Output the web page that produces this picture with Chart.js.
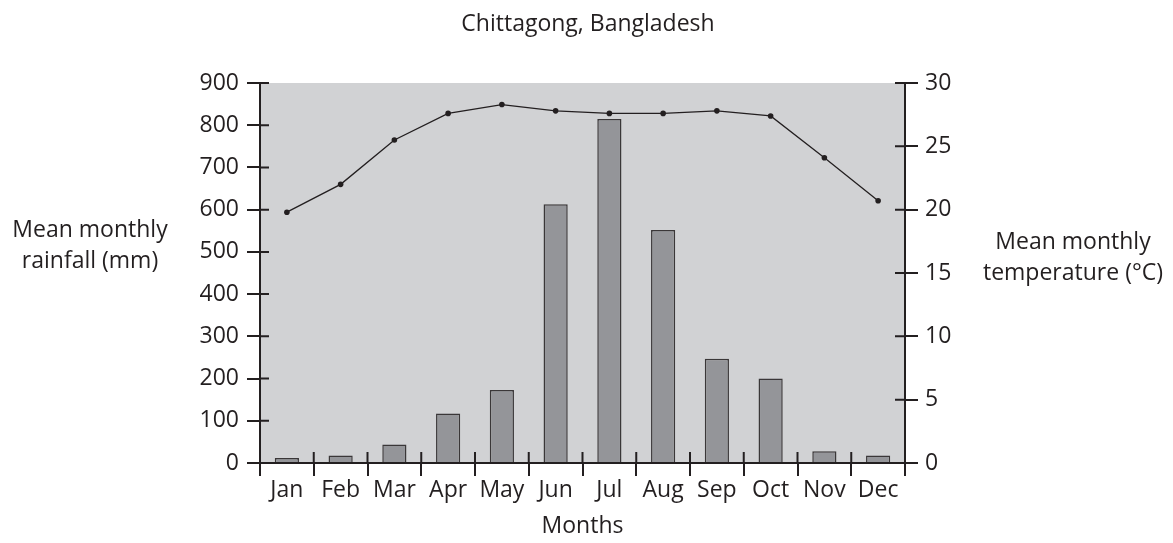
<!DOCTYPE html>
<html>
<head>
<meta charset="utf-8">
<script src="https://cdn.jsdelivr.net/npm/chart.js@4/dist/chart.umd.min.js"></script>
<style>
  html, body { margin: 0; padding: 0; background: #ffffff; }
  #wrap { position: relative; width: 1173px; height: 543px; }
</style>
</head>
<body>
<div id="wrap"><canvas id="climate"></canvas></div>
<script>
// データ
const months = ['Jan', 'Feb', 'Mar', 'Apr', 'May', 'Jun', 'Jul', 'Aug', 'Sep', 'Oct', 'Nov', 'Dec'];
const rainfall = [12, 18, 44, 117, 173, 613, 815, 552, 247, 200, 28, 18];
const temperature = [19.8, 22.0, 25.5, 27.6, 28.3, 27.8, 27.6, 27.6, 27.8, 27.4, 24.1, 20.7];
const rainTicks = [0, 100, 200, 300, 400, 500, 600, 700, 800, 900];
const tempTicks = [0, 5, 10, 15, 20, 25, 30];

const chartTitle = 'Chittagong, Bangladesh';
const leftTitle = ['Mean monthly', 'rainfall (mm)'];
const rightTitle = ['Mean monthly', 'temperature (\u00B0C)'];
const xTitle = 'Months';

const ink = '#231f20';
const fontFamily = '"Open Sans", "Noto Sans", sans-serif';
const fontSize = 23;

// 背景・内側の目盛り・テキスト
const decorPlugin = {
    id: 'decor',
    beforeDraw(chart) {
        const { ctx, chartArea: a } = chart;
        ctx.save();
        ctx.fillStyle = '#d1d2d4';
        ctx.fillRect(a.left, a.top, a.right - a.left, a.bottom - a.top);
        ctx.restore();
    },
    afterDraw(chart) {
        const { ctx, chartArea: a, scales } = chart;
        ctx.save();
        ctx.strokeStyle = ink;
        ctx.lineWidth = 2;
        ctx.beginPath();
        // 内側に伸びる目盛り
        scales.y.ticks.forEach((t, i) => {
            const y = scales.y.getPixelForTick(i);
            ctx.moveTo(a.left, y);
            ctx.lineTo(a.left + 9, y);
        });
        scales.y1.ticks.forEach((t, i) => {
            const y = scales.y1.getPixelForTick(i);
            ctx.moveTo(a.right, y);
            ctx.lineTo(a.right - 10, y);
        });
        const w = (a.right - a.left) / months.length;
        for (let i = 0; i <= months.length; i++) {
            const x = a.left + i * w;
            ctx.moveTo(x, a.bottom);
            ctx.lineTo(x, a.bottom - 11);
        }
        ctx.stroke();

        // タイトル類
        ctx.fillStyle = ink;
        ctx.font = `${fontSize}px ${fontFamily}`;
        ctx.textAlign = 'center';
        ctx.textBaseline = 'alphabetic';
        ctx.fillText(chartTitle, 588, 31);
        leftTitle.forEach((s, i) => ctx.fillText(s, 90, 237 + i * 31));
        rightTitle.forEach((s, i) => ctx.fillText(s, 1073, 249 + i * 31));
        ctx.restore();
    }
};

const ctx = document.getElementById('climate').getContext('2d');
const climateChart = new Chart(ctx, {
    data: {
        labels: months,
        datasets: [
            {
                type: 'line',
                label: 'Temperature',
                data: temperature,
                yAxisID: 'y1',
                borderColor: ink,
                borderWidth: 1.3,
                pointRadius: 2.8,
                pointBackgroundColor: ink,
                pointBorderWidth: 0,
                tension: 0,
                order: 0
            },
            {
                type: 'bar',
                label: 'Rainfall',
                data: rainfall,
                yAxisID: 'y',
                backgroundColor: '#949599',
                borderColor: '#3a3738',
                borderWidth: 1.5,
                barPercentage: 0.45,
                categoryPercentage: 1.0,
                order: 1
            }
        ]
    },
    options: {
        responsive: true,
        maintainAspectRatio: false,
        animation: false,
        layout: { padding: { top: 83, left: 0, right: 0, bottom: 0 } },
        plugins: {
            legend: { display: false },
            tooltip: { enabled: false }
        },
        scales: {
            x: {
                offset: true,
                grid: {
                    offset: true,
                    drawOnChartArea: false,
                    drawTicks: true,
                    tickLength: 13,
                    color: ink,
                    lineWidth: 2
                },
                border: { display: true, color: ink, width: 2 },
                ticks: {
                    color: ink,
                    padding: 1,
                    maxRotation: 0,
                    font: { family: fontFamily, size: fontSize }
                },
                title: {
                    display: true,
                    text: xTitle,
                    color: ink,
                    font: { family: fontFamily, size: fontSize },
                    padding: { top: 0, bottom: 3 }
                },
                afterFit: s => { s.height = 80; }
            },
            y: {
                position: 'left',
                min: 0,
                max: 900,
                afterBuildTicks: s => { s.ticks = rainTicks.map(v => ({ value: v })); },
                grid: {
                    drawOnChartArea: false,
                    tickLength: 13,
                    color: ink,
                    lineWidth: 2
                },
                border: { display: true, color: ink, width: 2 },
                ticks: {
                    color: ink,
                    padding: 8,
                    font: { family: fontFamily, size: fontSize }
                },
                afterFit: s => { s.width = 260; }
            },
            y1: {
                position: 'right',
                min: 0,
                max: 30,
                afterBuildTicks: s => { s.ticks = tempTicks.map(v => ({ value: v })); },
                grid: {
                    drawOnChartArea: false,
                    tickLength: 13,
                    color: ink,
                    lineWidth: 2
                },
                border: { display: true, color: ink, width: 2 },
                ticks: {
                    color: ink,
                    padding: 7,
                    font: { family: fontFamily, size: fontSize }
                },
                afterFit: s => { s.width = 268; }
            }
        }
    },
    plugins: [decorPlugin]
});
</script>
</body>
</html>
